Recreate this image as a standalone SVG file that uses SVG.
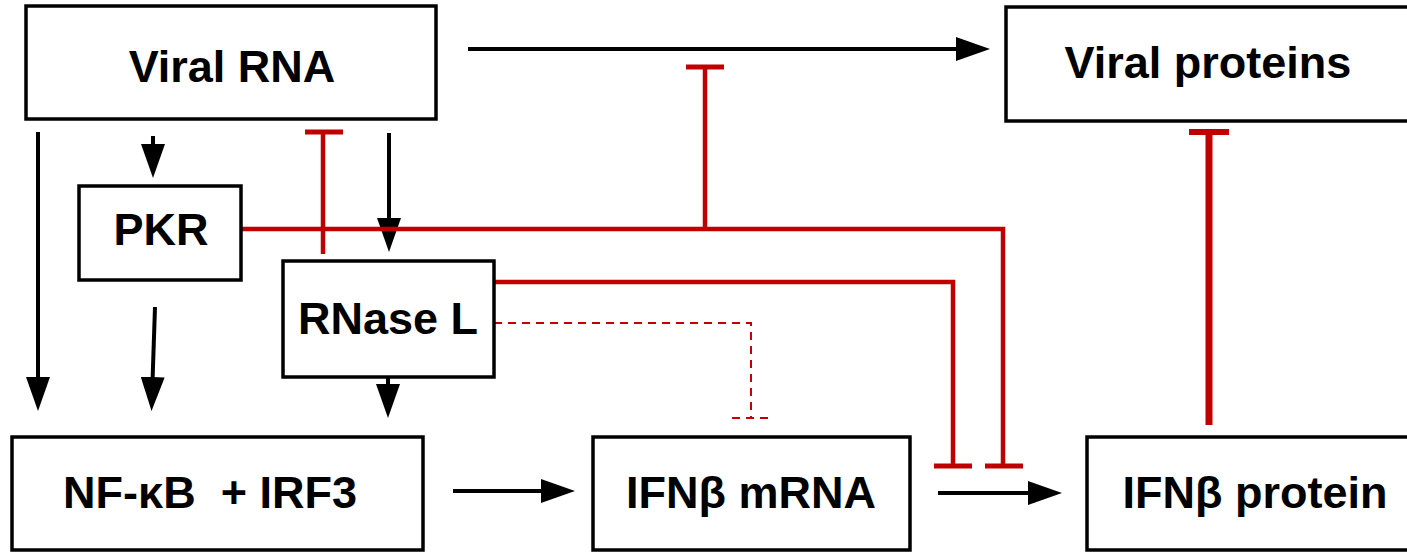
<svg xmlns="http://www.w3.org/2000/svg" width="1407" height="552" viewBox="0 0 1407 552">
<defs>
<style>
.box{fill:#fff;stroke:#000;stroke-width:3.5}
.lbl{font-family:"Liberation Sans",Arial,sans-serif;font-weight:bold;font-size:45px;fill:#000;text-anchor:middle}
.act{stroke:#000;stroke-width:4;fill:none}
.inh{stroke:#c00000;stroke-width:4.5;fill:none}
.bar{stroke:#c00000;stroke-width:5;fill:none}
.dash{stroke:#c00000;stroke-width:2;fill:none;stroke-dasharray:8 6}
</style>
<marker id="arr" viewBox="0 0 34 24" refX="14" refY="12" markerWidth="34" markerHeight="24" orient="auto" markerUnits="userSpaceOnUse">
<path d="M0,0 L34,12 L0,24 z" fill="#000"/>
</marker>
</defs>
<rect width="1407" height="552" fill="#fff"/>
<g id="connectors">
<line class="act" x1="468" y1="49" x2="970" y2="49" marker-end="url(#arr)"/>
<line class="act" x1="38" y1="132" x2="38" y2="391" marker-end="url(#arr)"/>
<line class="act" x1="153" y1="136" x2="153" y2="158" marker-end="url(#arr)"/>
<line class="act" x1="155" y1="307" x2="152.2" y2="391" marker-end="url(#arr)"/>
<line class="act" x1="389" y1="133" x2="389" y2="232" marker-end="url(#arr)"/>
<line class="act" x1="388" y1="377" x2="388" y2="398" marker-end="url(#arr)"/>
<line class="act" x1="453" y1="491" x2="555" y2="491" marker-end="url(#arr)"/>
<line class="act" x1="938" y1="493" x2="1042" y2="493" marker-end="url(#arr)"/>
<line class="inh" x1="323" y1="254" x2="323" y2="132"/>
<line class="bar" x1="305" y1="132" x2="343" y2="132"/>
<path class="inh" d="M241,229 H1003 V466"/>
<line class="bar" x1="985" y1="466" x2="1023" y2="466"/>
<line class="inh" x1="705" y1="229" x2="705" y2="67"/>
<line class="bar" x1="686" y1="67" x2="724" y2="67"/>
<path class="inh" d="M494,282 H953 V466"/>
<line class="bar" x1="934" y1="466" x2="972" y2="466"/>
<path class="dash" d="M494,323 H751 V418"/>
<line class="dash" x1="732" y1="418" x2="768" y2="418"/>
<line stroke="#c00000" stroke-width="7" x1="1209" y1="425" x2="1209" y2="132"/>
<line stroke="#c00000" stroke-width="6" x1="1189" y1="132" x2="1229" y2="132"/>
</g>
<g id="viral-rna"><rect class="box" x="26" y="6" width="410" height="113"/><text class="lbl" x="232" y="82">Viral RNA</text></g>
<g id="viral-proteins"><rect class="box" x="1006" y="7" width="410" height="114"/><text class="lbl" x="1208" y="78">Viral proteins</text></g>
<g id="pkr"><rect class="box" x="79" y="186" width="162" height="94"/><text class="lbl" x="161" y="245">PKR</text></g>
<g id="rnase-l"><rect class="box" x="283" y="261" width="211" height="116"/><text class="lbl" x="388" y="334">RNase L</text></g>
<g id="nfkb-irf3"><rect class="box" x="12" y="437" width="411" height="113"/><text class="lbl" x="210" y="508" xml:space="preserve">NF-κB  + IRF3</text></g>
<g id="ifnb-mrna"><rect class="box" x="593" y="437" width="317" height="113"/><text class="lbl" x="751" y="508">IFNβ mRNA</text></g>
<g id="ifnb-protein"><rect class="box" x="1087" y="437" width="330" height="113"/><text class="lbl" x="1255" y="508">IFNβ protein</text></g>
</svg>
